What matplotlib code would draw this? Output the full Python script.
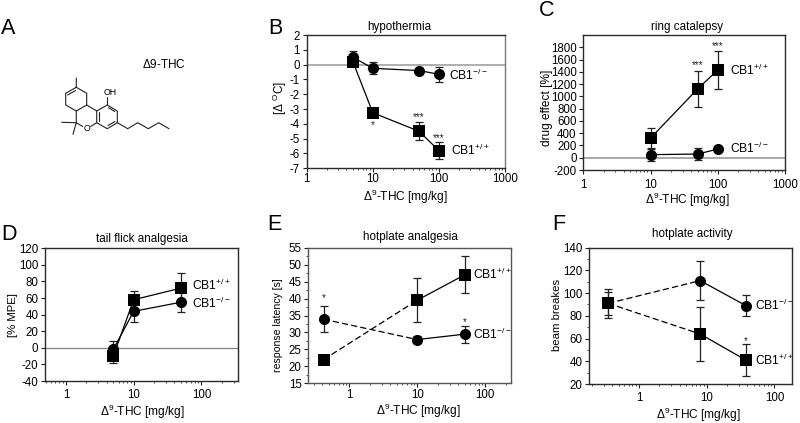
import matplotlib
matplotlib.use('Agg')
import matplotlib.pyplot as plt
from matplotlib.ticker import LogLocator, NullFormatter, FuncFormatter, MultipleLocator

plt.rcParams['font.family'] = ['Liberation Sans', 'DejaVu Sans']
plt.rcParams['mathtext.fontset'] = 'custom'
plt.rcParams['mathtext.rm'] = 'Liberation Sans'
plt.rcParams['mathtext.it'] = 'Liberation Sans'
plt.rcParams['mathtext.default'] = 'regular'
plt.rcParams['axes.unicode_minus'] = False
plt.rcParams['font.size'] = 8.3

W, H = 800, 423

# hypothermia
b_x = [5, 10, 50, 100]
b_ko = [0.5, -0.25, -0.4, -0.65]
b_ko_err = [0.45, 0.4, 0.2, 0.5]
b_wt = [0.2, -3.25, -4.5, -5.8]
b_wt_err = [0.3, 0.3, 0.62, 0.55]

# ring catalepsy
c_x = [10, 50, 100]
c_ko = [50, 60, 140]
c_ko_err = [100, 100, 30]
c_wt = [320, 1120, 1430]
c_wt_err = [165, 300, 305]

# tail flick
d_x = [5, 10, 50]
d_ko = [-2, 44, 55]
d_ko_err = [10, 13, 12]
d_wt = [-10, 58, 72]
d_wt_err = [8, 11, 18]

# hotplate analgesia
e_x = [0.42, 10, 50]
e_ko = [33.9, 27.9, 29.5]
e_ko_err = [3.8, 1, 2.5]
e_wt = [22, 39.5, 47]
e_wt_err = [0.5, 6.5, 5.5]

# hotplate activity
f_x = [0.35, 8, 38]
f_ko = [91, 111, 89]
f_ko_err = [13, 17, 9]
f_wt = [91, 64, 41]
f_wt_err = [10, 24, 14]

KO = 'CB1$^{-/-}$'
WT = 'CB1$^{+/+}$'
XLAB = r'$\Delta^{9}$-THC [mg/kg]'
LAB = 8.7

# molecule outline, pixel positions of the drawing
ring_bonds = [
    [(76.3, 78), (76.3, 87.3), (86.7, 93.3), (86.7, 105), (76.3, 111), (65.7, 105), (65.7, 93.3), (76.3, 87.3)],
    [(86.7, 105), (96.7, 111), (96.7, 122.7), (90.7, 126.5)],
    [(82.7, 126.5), (76.3, 122.7), (76.3, 111)],
    [(61.7, 122.3), (76.3, 122.7), (73, 134.3)],
    [(96.7, 111), (107.3, 105), (117.3, 111), (117.3, 122.7), (107.3, 128.7), (96.7, 122.7)],
    [(107.3, 105), (107.3, 97)],
    [(117.3, 122.7), (127.7, 128.7), (137.7, 122.7), (148.3, 128.7), (158.7, 122.7), (169, 128.7)],
]
inner_bonds = [
    [(67.7, 95), (75.5, 90.5)],
    [(108.5, 107.7), (114.8, 111.5)],
    [(108, 125.5), (115, 121.5)],
    [(99, 112.5), (99, 121)],
]

fig = plt.figure(figsize=(W / 100, H / 100), dpi=100)

# overlay in pixel coordinates for molecule, titles, axis labels and panel letters
ov = fig.add_axes([0, 0, 1, 1], zorder=10)
ov.set_xlim(0, W)
ov.set_ylim(H, 0)
ov.axis('off')
ov.patch.set_alpha(0)


def panel(box, ylim, xlim, yticks, xticks, xpad, title, title_xy, ylabel, ylabel_xy, ylabel_size, xlabel_xy):
    l, t, r, b = box
    ax = fig.add_axes([l / W, 1 - b / H, (r - l) / W, (b - t) / H])
    ax.set_xscale('log')
    ax.set_xlim(xlim)
    ax.set_ylim(ylim)
    ax.set_yticks(yticks)
    ax.set_xticks(xticks)
    ax.xaxis.set_major_formatter(FuncFormatter(lambda v, p: f'{v:g}'))
    ax.xaxis.set_minor_locator(LogLocator(base=10, subs=range(2, 10), numticks=12))
    ax.xaxis.set_minor_formatter(NullFormatter())
    ax.tick_params(axis='both', which='major', length=2.8, width=0.8, pad=2, labelsize=8.3, color='#222222')
    ax.tick_params(axis='x', which='major', pad=xpad)
    ax.tick_params(axis='both', which='minor', length=1.6, width=0.6, color='#333333')
    for s in ax.spines.values():
        s.set_linewidth(1.0)
        s.set_color('#2a2a2a')
    ov.text(title_xy[0], title_xy[1], title, ha='center', va='center', fontsize=8.4)
    ov.text(ylabel_xy[0], ylabel_xy[1], ylabel, ha='center', va='center', rotation=90, fontsize=ylabel_size)
    ov.text(xlabel_xy[0], xlabel_xy[1], XLAB, ha='center', va='center', fontsize=8.6)
    return ax


def series(ax, x, y, err, marker, ms, dash_first=False):
    ax.errorbar(x, y, yerr=err, fmt='none', ecolor='#222222', elinewidth=0.9, capsize=2.6, capthick=0.9, zorder=3)
    if dash_first:
        ax.plot(x[:2], y[:2], color='k', lw=0.9, ls=(0, (5, 2.5)), zorder=3)
        ax.plot(x[1:], y[1:], color='k', lw=0.9, zorder=3)
    else:
        ax.plot(x, y, color='k', lw=0.9, zorder=3)
    ax.plot(x, y, ls='none', marker=marker, ms=ms, color='k', mew=0, zorder=4)


def stars(ax, x, y, s):
    ax.text(x, y, s, ha='center', va='center', fontsize=7, color='#222222')


SQ = 8.8
CI = 8.0

# B
ax = panel((306.7, 35, 505, 168.3), (-7, 2), (1, 1000), range(-7, 3), [1, 10, 100, 1000], 0.8,
           'hypothermia', (399, 27), r'[$\Delta$ $^{O}$C]', (280, 98), 8.4, (405, 197))
ax.spines['right'].set_color('#777777')
ax.axhline(0, color='#a8a8a8', lw=1.3, zorder=1)
series(ax, b_x, b_ko, b_ko_err, 'o', CI)
series(ax, b_x, b_wt, b_wt_err, 's', SQ)
stars(ax, 10, -4.1, '*')
stars(ax, 50, -3.55, '***')
stars(ax, 100, -4.95, '***')
ax.text(142, -0.7, KO, va='center', fontsize=LAB)
ax.text(155, -5.8, WT, va='center', fontsize=LAB)

# C
ax = panel((583.3, 35, 785, 170), (-200, 2000), (1, 1000), range(-200, 1801, 200), [1, 10, 100, 1000], 3.5,
           'ring catalepsy', (687, 27), 'drug effect [%]', (547, 108), 8.6, (687, 200))
ax.axhline(0, color='#909090', lw=1.1, zorder=1)
series(ax, c_x, c_ko, c_ko_err, 'o', CI)
series(ax, c_x, c_wt, c_wt_err, 's', SQ)
stars(ax, 50, 1510, '***')
stars(ax, 100, 1820, '***')
ax.text(150, 1430, WT, va='center', fontsize=LAB)
ax.text(150, 150, KO, va='center', fontsize=LAB)

# D
ax = panel((45, 248.3, 237.7, 381), (-40, 120), (0.49, 344), range(-40, 121, 20), [1, 10, 100], 3,
           'tail flick analgesia', (142, 239), '[% MPE]', (13, 315), 8.2, (142, 412))
ax.axhline(0, color='#808080', lw=0.9, zorder=1)
series(ax, d_x, d_ko, d_ko_err, 'o', CI)
series(ax, d_x, d_wt, d_wt_err, 's', SQ)
ax.text(72, 75, WT, va='center', fontsize=LAB)
ax.text(72, 53, KO, va='center', fontsize=LAB)

# E
ax = panel((308.3, 247.7, 511, 383.3), (15, 55), (0.25, 240), range(15, 56, 5), [1, 10, 100], 1.5,
           'hotplate analgesia', (410, 237), 'response latency [s]', (278, 325), 7.6, (418, 411))
for s in ax.spines.values():
    s.set_color('#555555')
ax.yaxis.set_minor_locator(MultipleLocator(2.5))
series(ax, e_x, e_ko, e_ko_err, 'o', CI, dash_first=True)
series(ax, e_x, e_wt, e_wt_err, 's', SQ, dash_first=True)
stars(ax, 0.42, 40, '*')
stars(ax, 50, 33, '*')
ax.text(66, 47, WT, va='center', fontsize=LAB)
ax.text(66, 29.5, KO, va='center', fontsize=LAB)

# F
ax = panel((589.3, 247.7, 791.7, 384), (20, 140), (0.184, 180), range(20, 141, 20), [1, 10, 100], 3,
           'hotplate activity', (692, 234), 'beam breakes', (557, 315), 8.2, (698, 414.5))
ax.yaxis.set_minor_locator(MultipleLocator(10))
series(ax, f_x, f_ko, f_ko_err, 'o', CI, dash_first=True)
series(ax, f_x, f_wt, f_wt_err, 's', SQ, dash_first=True)
stars(ax, 38, 58, '*')
ax.text(52, 89, KO, va='center', fontsize=LAB)
ax.text(51, 41, WT, va='center', fontsize=LAB)

for bond in ring_bonds + inner_bonds:
    ov.plot([p[0] for p in bond], [p[1] for p in bond], color='#222222', lw=0.8, solid_capstyle='round')
ov.text(87, 128.7, 'O', ha='center', va='center', fontsize=6.3)
ov.text(110.5, 92.5, 'OH', ha='center', va='center', fontsize=6.3)
ov.text(164, 65, r'$\Delta$9-THC', ha='center', va='center', fontsize=8.5)

for letter, lx, ly in [('A', 0.5, 29), ('B', 268, 29), ('C', 539, 11), ('D', 1, 234), ('E', 267, 225), ('F', 552, 225)]:
    ov.text(lx, ly, letter, ha='left', va='center', fontsize=15.5)

fig.savefig('out.png', dpi=100)
